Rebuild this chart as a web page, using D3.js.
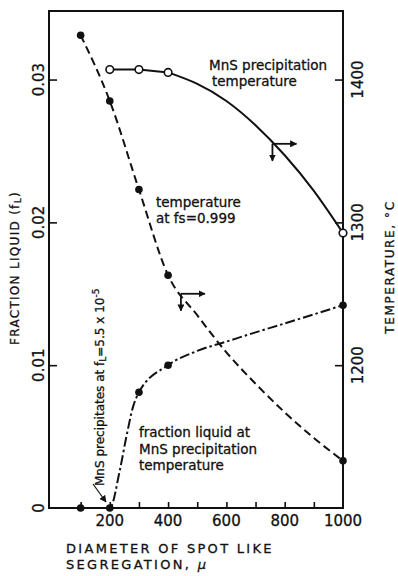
<!DOCTYPE html>
<html><head><meta charset="utf-8">
<script src="https://cdn.jsdelivr.net/npm/d3@7"></script>
<style>
body{margin:0;background:#fff}
text{font-family:"DejaVu Sans",sans-serif;fill:#111;stroke:#111;stroke-width:0.3px}
</style>
</head><body>
<svg id="c" width="398" height="576"></svg>
<script>
// ---------- data ----------
const diameterTicks = [100,200,300,400,500,600,700,800,900];
const diameterLabels = [200,400,600,800,1000];
const fractionTicks = [0.01,0.02,0.03];
const fractionLabels = ["0","0.01","0.02","0.03"];
const fractionLabelValues = [0,0.01,0.02,0.03];
const tempTicks = [1200,1300,1400];
const tempLabels = ["1200","1300","1400"];

// temperature at fs = 0.999 (right axis, °C)
const fsTempX = [100,200,300,400,1000];
const fsTempY = [1431,1385,1323,1263,1133];
const fsTempCurveX = [100,200,300,400,500,600,700,800,900,1000];
const fsTempCurveY = [1431,1385,1323,1263,1235,1209,1187,1167,1149,1133];

// MnS precipitation temperature (right axis, °C)
const mnsTempX = [200,300,400,1000];
const mnsTempY = [1407,1407,1405,1292.5];
const mnsTempCurveX = [400,500,600,700,800,900,1000];
const mnsTempCurveY = [1405,1397,1385,1368,1347,1322,1292.5];

// fraction liquid at MnS precipitation temperature (left axis)
const fracX = [100,200,300,400,1000];
const fracY = [0,0,0.0081,0.0100,0.0142];
const fracCurveX = [100,200,235,257,280,300,400,500,600,700,800,900,1000];
const fracCurveY = [0,0,0.0027,0.0050,0.0071,0.0081,0.0100,0.0110,0.01165,0.0123,0.01292,0.01356,0.0142];

// ---------- layout ----------
const L = 49, R = 343, T = 11, B = 508;
const svg = d3.select("#c");
const x = d3.scaleLinear().domain([-8.5,1000]).range([L,R]);
const yF = d3.scaleLinear().domain([0,0.0348]).range([B,T]);
const yT = d3.scaleLinear().domain([1100,1448]).range([B,T]);

const zip = (a,b)=>a.map((v,i)=>[v,b[i]]);

// frame
svg.append("rect").attr("x",L).attr("y",T).attr("width",R-L).attr("height",B-T)
  .attr("fill","none").attr("stroke","#111").attr("stroke-width",2);

// axes via d3 axis generators (inward ticks)
const gx = svg.append("g").attr("transform",`translate(0,${B})`)
  .call(d3.axisBottom(x).tickValues(diameterTicks).tickSizeInner(-6).tickSizeOuter(0).tickFormat(""));
const gl = svg.append("g").attr("transform",`translate(${L},0)`)
  .call(d3.axisLeft(yF).tickValues(fractionTicks).tickSizeInner(-8).tickSizeOuter(0).tickFormat(""));
const gr = svg.append("g").attr("transform",`translate(${R},0)`)
  .call(d3.axisRight(yT).tickValues(tempTicks).tickSizeInner(-8).tickSizeOuter(0).tickFormat(""));
[gx,gl,gr].forEach(g=>{g.select(".domain").remove();g.selectAll("line").attr("stroke","#111").attr("stroke-width",1.6);});

// tick labels
svg.append("g").selectAll("text").data(diameterLabels).join("text")
  .attr("x",d=>x(d)).attr("y",526).attr("text-anchor","middle")
  .style("font-size","15px").text(d=>d);
svg.append("g").selectAll("text").data(fractionLabelValues).join("text")
  .attr("transform",d=>`translate(39,${yF(d)}) rotate(-90)`)
  .attr("text-anchor","middle").attr("dy","0.36em")
  .style("font-size","15px").text((d,i)=>fractionLabels[i]);
svg.append("g").selectAll("text").data(tempTicks).join("text")
  .attr("transform",d=>`translate(358,${yT(d)}) rotate(-90)`)
  .attr("text-anchor","middle").attr("dy","0.36em")
  .style("font-size","15px").text((d,i)=>tempLabels[i]);

// axis titles
const lt = svg.append("text").attr("transform","translate(19,268) rotate(-90)")
  .attr("text-anchor","middle").style("font-size","12px").style("letter-spacing","1.3px");
lt.append("tspan").text("FRACTION  LIQUID  (f");
lt.append("tspan").attr("dy","2").style("font-size","9px").text("L");
lt.append("tspan").attr("dy","-2").text(")");

svg.append("text").attr("transform","translate(394,267) rotate(-90)")
  .attr("text-anchor","middle").style("font-size","12px").style("letter-spacing","1.6px")
  .text("TEMPERATURE, °C");

svg.append("text").attr("x",66).attr("y",553).style("font-size","13px").style("letter-spacing","2.3px")
  .text("DIAMETER  OF  SPOT  LIKE");
const bt2 = svg.append("text").attr("x",66).attr("y",569).style("font-size","13px").style("letter-spacing","2.3px");
bt2.append("tspan").text("SEGREGATION,  ");
bt2.append("tspan").style("font-style","italic").text("μ");

// ---------- series ----------
// temperature at fs=0.999 : dashed
svg.append("path").attr("d",d3.line().x(d=>x(d[0])).y(d=>yT(d[1])).curve(d3.curveMonotoneX)(zip(fsTempCurveX,fsTempCurveY)))
  .attr("fill","none").attr("stroke","#111").attr("stroke-width",2).attr("stroke-dasharray","8,4.5");

// MnS precipitation temperature : solid
svg.append("path").attr("d",d3.line().x(d=>x(d[0])).y(d=>yT(d[1]))(zip(mnsTempX.slice(0,3),mnsTempY.slice(0,3))))
  .attr("fill","none").attr("stroke","#111").attr("stroke-width",2);
svg.append("path").attr("d",d3.line().x(d=>x(d[0])).y(d=>yT(d[1])).curve(d3.curveNatural)(zip(mnsTempCurveX,mnsTempCurveY)))
  .attr("fill","none").attr("stroke","#111").attr("stroke-width",2);

// fraction liquid : dash-dot
svg.append("path").attr("d",d3.line().x(d=>x(d[0])).y(d=>yF(d[1])).curve(d3.curveMonotoneX)(zip(fracCurveX,fracCurveY)))
  .attr("fill","none").attr("stroke","#111").attr("stroke-width",2).attr("stroke-dasharray","10,3,2.5,3");

// markers
svg.append("g").selectAll("circle").data(zip(fsTempX,fsTempY)).join("circle")
  .attr("cx",d=>x(d[0])).attr("cy",d=>yT(d[1])).attr("r",3.8).attr("fill","#111");
svg.append("g").selectAll("circle").data(zip(fracX,fracY)).join("circle")
  .attr("cx",d=>x(d[0])).attr("cy",d=>yF(d[1])).attr("r",3.8).attr("fill","#111");
svg.append("g").selectAll("circle").data(zip(mnsTempX,mnsTempY)).join("circle")
  .attr("cx",d=>x(d[0])).attr("cy",d=>yT(d[1])).attr("r",3.8).attr("fill","#fff")
  .attr("stroke","#111").attr("stroke-width",1.6);

// ---------- annotations ----------
const defs = svg.append("defs");
defs.append("marker").attr("id","ah").attr("viewBox","0 0 10 10").attr("refX",9).attr("refY",5)
  .attr("markerWidth",7).attr("markerHeight",7).attr("markerUnits","userSpaceOnUse").attr("orient","auto")
  .append("path").attr("d","M0,0 L10,5 L0,10 Z").attr("fill","#111");

function axisArrow(dx,temp){
  const cx = x(dx), cy = yT(temp);
  svg.append("line").attr("x1",cx).attr("y1",cy).attr("x2",cx+24).attr("y2",cy)
    .attr("stroke","#111").attr("stroke-width",1.8).attr("marker-end","url(#ah)");
  svg.append("line").attr("x1",cx).attr("y1",cy).attr("x2",cx).attr("y2",cy+17)
    .attr("stroke","#111").attr("stroke-width",1.8).attr("marker-end","url(#ah)");
}
axisArrow(758,1355);
axisArrow(444,1250);

const ann = (xx,yy,s)=>svg.append("text").attr("x",xx).attr("y",yy).style("font-size","13.5px").text(s);
ann(209,70,"MnS precipitation");
ann(212,86,"temperature");
ann(156,207,"temperature");
ann(156,223,"at  fs=0.999");
ann(139,437,"fraction liquid at");
ann(139,454,"MnS precipitation");
ann(139,470,"temperature");

// rotated note
const rn = svg.append("text").attr("transform","translate(104,486) rotate(-90)").style("font-size","12px");
rn.append("tspan").text("MnS precipitates at f");
rn.append("tspan").attr("dy","2").style("font-size","9px").text("L");
rn.append("tspan").attr("dy","-2").text("=5.5 x 10");
rn.append("tspan").attr("dy","-5").style("font-size","9px").text("-5");

svg.append("line").attr("x1",93).attr("y1",484).attr("x2",106).attr("y2",502)
  .attr("stroke","#111").attr("stroke-width",1.2).attr("marker-end","url(#ah)");
</script>
</body></html>
